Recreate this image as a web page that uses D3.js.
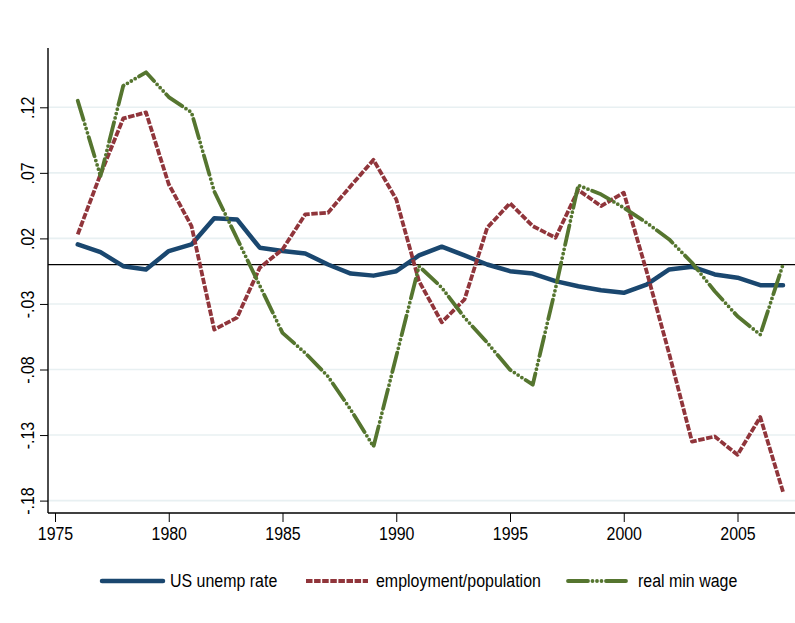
<!DOCTYPE html>
<html>
<head>
<meta charset="utf-8">
<script src="https://cdn.jsdelivr.net/npm/d3@7"></script>
<style>
  html, body { margin: 0; padding: 0; background: #ffffff; }
  svg { display: block; }
  text { font-family: "Liberation Sans", Arial, sans-serif; fill: #000; }
</style>
</head>
<body>
<svg id="chart" width="795" height="623"></svg>
<script>
// Years on the horizontal axis
const years = [1976, 1977, 1978, 1979, 1980, 1981, 1982, 1983, 1984, 1985, 1986,
  1987, 1988, 1989, 1990, 1991, 1992, 1993, 1994, 1995, 1996, 1997, 1998, 1999,
  2000, 2001, 2002, 2003, 2004, 2005, 2006, 2007];

// US unemployment rate (deviation)
const unempRate = [0.0154, 0.0095, -0.0012, -0.0037, 0.0103, 0.0154, 0.0353, 0.0345,
  0.0129, 0.0104, 0.0085, 0.0001, -0.0068, -0.0084, -0.0050, 0.0070, 0.0137, 0.0070,
  0.0001, -0.0050, -0.0068, -0.0126, -0.0165, -0.0196, -0.0215, -0.0152, -0.0037,
  -0.0016, -0.0075, -0.0100, -0.0157, -0.0157];

// Employment / population (deviation)
const empPop = [0.0231, 0.0689, 0.1115, 0.1161, 0.0613, 0.0294, -0.0496, -0.0404,
  -0.0024, 0.0116, 0.0383, 0.0396, 0.0600, 0.0799, 0.0498, -0.0126, -0.0440, -0.0266,
  0.0282, 0.0468, 0.0294, 0.0205, 0.0569, 0.0447, 0.0549, -0.0049, -0.0682, -0.1350,
  -0.1311, -0.1451, -0.1163, -0.1732];

// Real minimum wage (deviation)
const realMinWage = [0.1250, 0.0676, 0.1364, 0.1467, 0.1278, 0.1161, 0.0559, 0.0200,
  -0.0160, -0.0521, -0.0674, -0.0853, -0.1107, -0.1388, -0.0700, -0.0012, -0.0175,
  -0.0404, -0.0595, -0.0802, -0.0916, -0.0182, 0.0605, 0.0536, 0.0434, 0.0320, 0.0192,
  0.0014, -0.0203, -0.0394, -0.0534, 0.0001];

// Axis ticks and labels
const xTicks = [1975, 1980, 1985, 1990, 1995, 2000, 2005];
const yTicks = [0.12, 0.07, 0.02, -0.03, -0.08, -0.13, -0.18];
const yTickLabels = [".12", ".07", ".02", "-.03", "-.08", "-.13", "-.18"];

const seriesNames = ["US unemp rate", "employment/population", "real min wage"];

const svg = d3.select("#chart");

const plotLeft = 48, plotRight = 795, plotTop = 48, plotBottom = 513;
const narrow = 0.84;   // horizontal squeeze to get a condensed face

const x = d3.scaleLinear().domain([1975, 2007]).range([55, 783]);
const y = d3.scaleLinear().domain([-0.18, 0.12]).range([500.6, 107.3]);

// Horizontal grid lines
svg.append("g")
  .selectAll("line")
  .data(yTicks)
  .join("line")
  .attr("x1", plotLeft)
  .attr("x2", plotRight)
  .attr("y1", d => y(d))
  .attr("y2", d => y(d))
  .attr("stroke", "#e8f0f2")
  .attr("stroke-width", 1.6);

// Reference line at zero
svg.append("line")
  .attr("x1", plotLeft)
  .attr("x2", plotRight)
  .attr("y1", y(0))
  .attr("y2", y(0))
  .attr("stroke", "#000")
  .attr("stroke-width", 1.4);

// Y axis
const yAxis = d3.axisLeft(y)
  .tickValues(yTicks)
  .tickFormat((d, i) => yTickLabels[i])
  .tickSize(8)
  .tickSizeOuter(0);

const gy = svg.append("g")
  .attr("transform", `translate(${plotLeft},0)`)
  .call(yAxis);
gy.select(".domain").remove();
gy.selectAll(".tick line").attr("stroke", "#000").attr("stroke-width", 1);
gy.selectAll(".tick text")
  .attr("x", 0)
  .attr("y", 0)
  .attr("dy", null)
  .attr("text-anchor", "middle")
  .attr("transform", `translate(-20,0) rotate(-90) scale(${narrow},1)`)
  .attr("dominant-baseline", "central")
  .style("font-size", "19px");

svg.append("line")
  .attr("x1", plotLeft).attr("x2", plotLeft)
  .attr("y1", plotTop).attr("y2", plotBottom)
  .attr("stroke", "#000").attr("stroke-width", 1.4);

// X axis
const xAxis = d3.axisBottom(x)
  .tickValues(xTicks)
  .tickFormat(d3.format("d"))
  .tickSize(9)
  .tickSizeOuter(0);

const gx = svg.append("g")
  .attr("transform", `translate(0,${plotBottom})`)
  .call(xAxis);
gx.select(".domain").remove();
gx.selectAll(".tick line").attr("stroke", "#000").attr("stroke-width", 1);
gx.selectAll(".tick text")
  .attr("y", 14)
  .attr("dy", "0.71em")
  .attr("transform", `scale(${narrow},1)`)
  .style("font-size", "19px");

svg.append("line")
  .attr("x1", plotLeft).attr("x2", plotRight)
  .attr("y1", plotBottom).attr("y2", plotBottom)
  .attr("stroke", "#000").attr("stroke-width", 1.4);

// Series lines
const lineGen = d3.line()
  .x((d, i) => x(years[i]))
  .y(d => y(d));

const styles = [
  { color: "#1a476f", width: 4.5, dash: null, cap: "round" },
  { color: "#90353b", width: 3.8, dash: "6.5,1.6", cap: "butt" },
  { color: "#55752f", width: 3.8, dash: "20,4.5,0,4.5,0,4.5,0,4.5", cap: "round" }
];
const seriesData = [unempRate, empPop, realMinWage];

seriesData.forEach((vals, k) => {
  const s = styles[k];
  svg.append("path")
    .datum(vals)
    .attr("d", lineGen)
    .attr("fill", "none")
    .attr("stroke", s.color)
    .attr("stroke-width", s.width)
    .attr("stroke-linejoin", "round")
    .attr("stroke-linecap", s.cap)
    .attr("stroke-dasharray", s.dash);
});

// Legend
const legendItems = [
  { x1: 102, x2: 163, tx: 170 },
  { x1: 306, x2: 368, tx: 376 },
  { x1: 568, x2: 628, tx: 638 }
];
const legendY = 581;
const lg = svg.append("g");
legendItems.forEach((it, k) => {
  const s = styles[k];
  lg.append("line")
    .attr("x1", it.x1).attr("x2", it.x2)
    .attr("y1", legendY).attr("y2", legendY)
    .attr("stroke", s.color)
    .attr("stroke-width", s.width)
    .attr("stroke-linecap", s.cap)
    .attr("stroke-dasharray", s.dash);
  lg.append("text")
    .attr("transform", `translate(${it.tx},${legendY}) scale(${narrow},1)`)
    .attr("dominant-baseline", "central")
    .style("font-size", "19px")
    .text(seriesNames[k]);
});
</script>
</body>
</html>
